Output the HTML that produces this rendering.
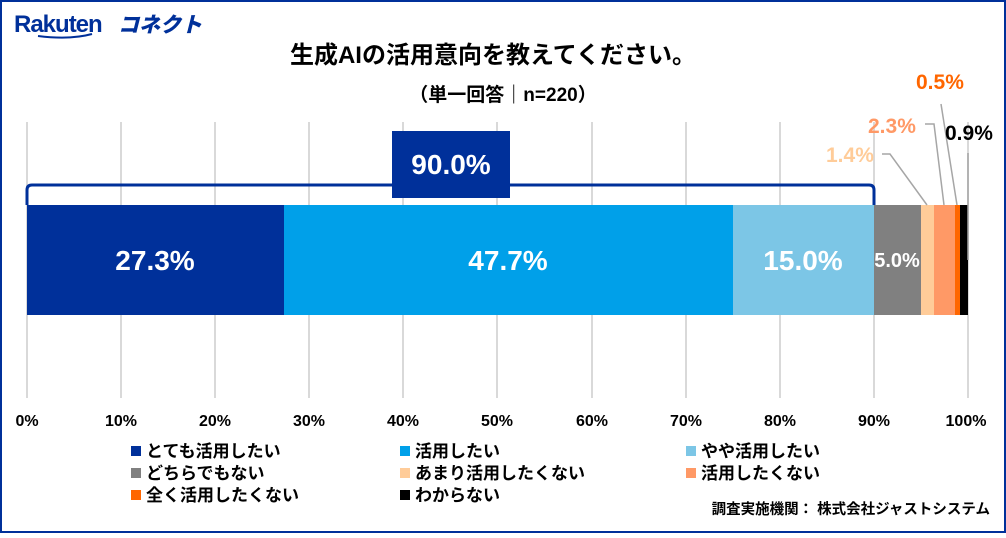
<!DOCTYPE html>
<html><head><meta charset="utf-8"><style>
body{margin:0;width:1006px;height:533px;overflow:hidden;background:#fff;font-family:"Liberation Sans","Noto Sans CJK JP",sans-serif}
</style></head><body>
<svg width="1006" height="533" xmlns="http://www.w3.org/2000/svg" font-family="Liberation Sans, Noto Sans CJK JP, sans-serif">
<rect x="1" y="1" width="1004" height="531" fill="#fff" stroke="#00309a" stroke-width="2"/>
<text x="14" y="32" font-size="24" font-weight="bold" fill="#00309a" letter-spacing="-1">Rakuten</text>
<text x="118" y="32" font-size="21" font-weight="900" font-style="italic" fill="#00309a">コネクト</text>
<path d="M38 36 Q70 40 92 34" stroke="#00309a" stroke-width="2" fill="none"/>
<text x="493" y="63" font-size="24" font-weight="bold" text-anchor="middle">生成AIの活用意向を教えてください。</text>
<text x="503" y="101" font-size="19" font-weight="bold" text-anchor="middle">（単一回答｜n=220）</text>
<g stroke="#d9d9d9" stroke-width="2">
<line x1="27" y1="122" x2="27" y2="398"/><line x1="121" y1="122" x2="121" y2="398"/><line x1="215" y1="122" x2="215" y2="398"/><line x1="309" y1="122" x2="309" y2="398"/><line x1="403" y1="122" x2="403" y2="398"/><line x1="497" y1="122" x2="497" y2="398"/><line x1="592" y1="122" x2="592" y2="398"/><line x1="686" y1="122" x2="686" y2="398"/><line x1="780" y1="122" x2="780" y2="398"/><line x1="874" y1="122" x2="874" y2="398"/><line x1="968" y1="122" x2="968" y2="398"/>
</g>
<rect x="27" y="205" width="257" height="110" fill="#00309a"/>
<rect x="284" y="205" width="449" height="110" fill="#00a0e9"/>
<rect x="733" y="205" width="141" height="110" fill="#7cc6e6"/>
<rect x="874" y="205" width="47" height="110" fill="#808080"/>
<rect x="921" y="205" width="13" height="110" fill="#ffcc99"/>
<rect x="934" y="205" width="21" height="110" fill="#ff9966"/>
<rect x="955" y="205" width="5" height="110" fill="#ff6600"/>
<rect x="960" y="205" width="8" height="110" fill="#000"/>
<g font-weight="bold" fill="#fff" text-anchor="middle">
<text x="155" y="270" font-size="28">27.3%</text>
<text x="508" y="270" font-size="28">47.7%</text>
<text x="803" y="270" font-size="28">15.0%</text>
<text x="897" y="267" font-size="20">5.0%</text>
</g>
<path d="M27 205 V190 Q27 185 32 185 H869 Q874 185 874 190 V205" stroke="#00309a" stroke-width="3" fill="none"/>
<rect x="392" y="131" width="118" height="67" fill="#00309a"/>
<text x="451" y="174" font-size="28" font-weight="bold" fill="#fff" text-anchor="middle">90.0%</text>
<g stroke="#a6a6a6" stroke-width="1.5" fill="none">
<polyline points="882,154 890,154 927,205"/>
<polyline points="925,124 934,124 944,205"/>
<line x1="941" y1="104" x2="957" y2="205"/>
<line x1="968" y1="153" x2="968" y2="260"/>
</g>
<g font-weight="bold" font-size="21">
<text x="826" y="162" fill="#ffcc99">1.4%</text>
<text x="868" y="133" fill="#ff9966">2.3%</text>
<text x="916" y="89" fill="#ff6600">0.5%</text>
<text x="945" y="140" fill="#000">0.9%</text>
</g>
<g font-size="16" font-weight="bold" text-anchor="middle">
<text x="27" y="426">0%</text><text x="121" y="426">10%</text><text x="215" y="426">20%</text><text x="309" y="426">30%</text><text x="403" y="426">40%</text><text x="497" y="426">50%</text><text x="592" y="426">60%</text><text x="686" y="426">70%</text><text x="780" y="426">80%</text><text x="874" y="426">90%</text><text x="966" y="426">100%</text>
</g>
<g font-size="17" font-weight="bold">
<rect x="131" y="446" width="10" height="10" fill="#00309a"/><text x="146" y="457">とても活用したい</text>
<rect x="400" y="446" width="10" height="10" fill="#00a0e9"/><text x="415" y="457">活用したい</text>
<rect x="686" y="446" width="10" height="10" fill="#7cc6e6"/><text x="701" y="457">やや活用したい</text>
<rect x="131" y="468" width="10" height="10" fill="#808080"/><text x="146" y="479">どちらでもない</text>
<rect x="400" y="468" width="10" height="10" fill="#ffcc99"/><text x="415" y="479">あまり活用したくない</text>
<rect x="686" y="468" width="10" height="10" fill="#ff9966"/><text x="701" y="479">活用したくない</text>
<rect x="131" y="490" width="10" height="10" fill="#ff6600"/><text x="146" y="501">全く活用したくない</text>
<rect x="400" y="490" width="10" height="10" fill="#000"/><text x="415" y="501">わからない</text>
</g>
<text x="990" y="514" font-size="14.5" font-weight="bold" text-anchor="end">調査実施機関： 株式会社ジャストシステム</text>
</svg>
</body></html>
